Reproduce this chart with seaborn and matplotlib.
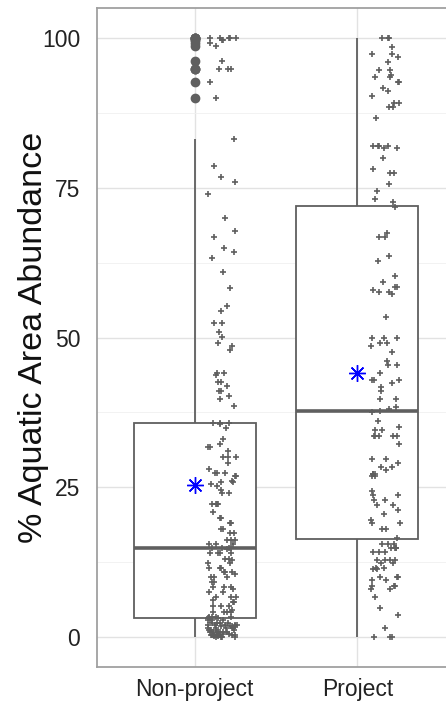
import numpy as np
import pandas as pd
import matplotlib
matplotlib.use("Agg")
import matplotlib.pyplot as plt
from matplotlib.ticker import MultipleLocator
import seaborn as sns

# groups on the x axis
groups = ["Non-project", "Project"]

# % aquatic area abundance per site
non_project = [
    100.0, 100.0, 100.0, 100.0, 100.0, 99.7, 99.7, 99.2, 98.7, 96.2, 94.8, 94.8, 94.8,
    92.7, 90.0, 83.1, 78.6, 76.8, 76.0,
    74.0, 69.9, 67.8, 66.7, 65.0, 64.3, 63.2, 60.9, 58.3, 55.3, 54.5, 52.5, 52.5, 50.9,
    50.1, 49.1, 48.5, 47.9, 44.1, 44.1, 43.7, 42.6, 42.6, 41.9, 41.0, 41.0, 40.3, 39.7, 38.6,
    35.8, 35.8, 35.8, 35.6, 34.9, 33.0, 32.3, 31.8, 31.8, 31.1, 30.1, 30.1, 30.1, 29.0, 28.0,
    27.4, 27.4, 27.4, 26.8, 26.8, 25.8, 25.8,
    26.0, 25.5, 25.2, 24.6, 24.0, 24.0, 22.2, 22.2, 22.2, 22.2, 20.9, 19.8, 19.8, 19.0, 19.0,
    18.1, 18.1, 17.3, 17.3, 16.2, 16.2, 16.2, 15.5, 15.5, 15.5,
    14.9, 14.9, 14.8, 14.8, 14.7, 14.0, 14.0, 14.0, 14.0, 13.1, 13.1, 12.8, 12.3, 12.3,
    11.6, 11.6, 11.6, 10.9, 10.9, 10.9, 10.5, 10.1, 10.1, 10.1, 9.2, 9.2, 8.4, 8.4, 8.4,
    8.0, 7.6, 7.6, 6.7, 6.7, 6.7, 6.2, 5.9, 5.9, 5.1, 5.1, 5.1, 4.5, 4.2, 4.2, 4.2, 4.2,
    3.4, 3.4, 3.4, 3.4,
    3.2, 3.2, 3.2, 2.8, 2.8, 2.8, 2.8, 2.4, 2.4, 2.4, 2.4, 2.0, 2.0, 2.0, 2.0, 2.0,
    1.8, 1.8, 1.8, 1.8, 1.5, 1.5, 1.5, 1.5, 1.5, 1.2, 1.2, 1.2, 1.2,
    0.9, 0.9, 0.9, 0.9, 0.9, 0.9, 0.5, 0.5, 0.5, 0.3, 0.3, 0.3, 0.3, 0.3, 0.3, 0.3, 0.3,
    0.2, 0.2, 0.0, 0.0, 0.0, 0.0,
]

project = [
    100.0, 100.0, 100.0, 98.5, 97.4, 97.4, 96.9, 96.0, 94.7, 94.7, 93.8, 93.4, 93.4,
    92.7, 92.7, 91.6, 91.2, 90.3, 89.2, 89.2, 88.5, 88.5, 86.6, 81.9, 81.9, 81.9, 81.9,
    81.6, 81.6, 79.9, 78.2, 77.4, 77.4, 75.7, 74.5, 72.6,
    73.2, 71.8, 67.4, 66.8, 66.8, 63.6, 62.8, 60.2, 59.3, 58.4, 58.4, 58.0, 57.6, 57.6,
    57.2, 53.4,
    49.9, 49.9, 49.9, 49.0, 49.0, 48.5, 47.5, 46.0, 45.4, 45.4, 44.1, 42.9, 42.9, 42.9,
    42.4, 41.8, 41.1, 39.7, 39.7, 38.4, 38.0, 37.8, 37.6, 36.0, 35.1, 34.6, 34.6,
    33.6, 33.6, 33.6, 33.6, 33.6, 32.3, 29.8, 29.8, 29.1, 28.4, 28.4, 27.9, 27.2, 27.2,
    27.2, 26.8, 26.8,
    24.3, 23.7, 23.7, 22.9, 22.9, 22.0, 22.0, 21.2, 20.5, 19.5, 19.0, 19.0,
    18.1, 18.1, 16.6, 15.5, 15.5, 15.5, 14.8, 14.8, 14.8, 14.8, 14.2, 14.2, 14.2,
    12.8, 12.8, 12.8, 12.8, 12.3, 12.3, 11.6, 11.6, 11.3, 11.3, 10.0, 10.0, 10.0,
    9.5, 9.5, 8.5, 8.5, 8.5, 8.0, 8.0, 6.7, 4.8, 3.7, 1.5, 0.0, 0.0, 0.0,
]

y_ticks = [0, 25, 50, 75, 100]

df = pd.DataFrame({
    "group": [groups[0]] * len(non_project) + [groups[1]] * len(project),
    "value": non_project + project,
})

sns.set_style("white")
plt.rcParams["font.family"] = ["Liberation Sans", "DejaVu Sans"]

grey = "#5f5f5f"
fig = plt.figure(figsize=(4.46, 7.02), dpi=100)
ax = fig.add_axes([97 / 446, 35 / 702, 358 / 446, 659 / 702])

# box plot
sns.boxplot(data=df, x="group", y="value", order=groups, color="white",
            linecolor=grey, linewidth=1.3, width=0.75, showcaps=False,
            medianprops=dict(linewidth=2.6, color=grey),
            flierprops=dict(marker="o", markersize=6, markerfacecolor=grey,
                            markeredgecolor=grey),
            ax=ax)

# jittered points, nudged right of box centre
np.random.seed(7)
sns.stripplot(data=df, x="group", y="value", order=groups, jitter=0.09,
              marker="+", size=4.5, linewidth=1.2, color=grey, ax=ax, zorder=3)
for c in ax.collections:
    if len(c.get_offsets()) > 20:
        c.set_offsets(c.get_offsets() + np.array([0.17, 0.0]))

# group means
sns.pointplot(data=df, x="group", y="value", order=groups, estimator="mean",
              errorbar=None, color="blue", marker=(8, 2, 0), markersize=12,
              markeredgewidth=1.0, linestyle="none", ax=ax, zorder=4)

ax.set_xlim(-0.6, 1.6)
ax.set_ylim(-5, 105)
ax.set_yticks(y_ticks)
ax.yaxis.set_minor_locator(MultipleLocator(12.5))
ax.set_axisbelow(True)
ax.grid(which="major", color="#e2e2e2", linewidth=1.0)
ax.grid(which="minor", axis="y", color="#f0f0f0", linewidth=0.6)
ax.xaxis.grid(True, which="major", color="#e2e2e2", linewidth=1.0)

for s in ax.spines.values():
    s.set_visible(True)
    s.set_color("#a0a0a0")
    s.set_linewidth(1.3)

ax.tick_params(axis="both", which="major", length=2, color="#b3b3b3",
               labelsize=16.5, labelcolor="#222222")
ax.tick_params(axis="y", pad=10)
ax.tick_params(axis="x", pad=6)
ax.tick_params(which="minor", length=0)

ax.set_xlabel("")
ax.set_ylabel("% Aquatic Area Abundance", fontsize=24.5, color="#111111")
ax.yaxis.set_label_coords(-0.135, 0.5)

fig.savefig("out.png", dpi=100)
